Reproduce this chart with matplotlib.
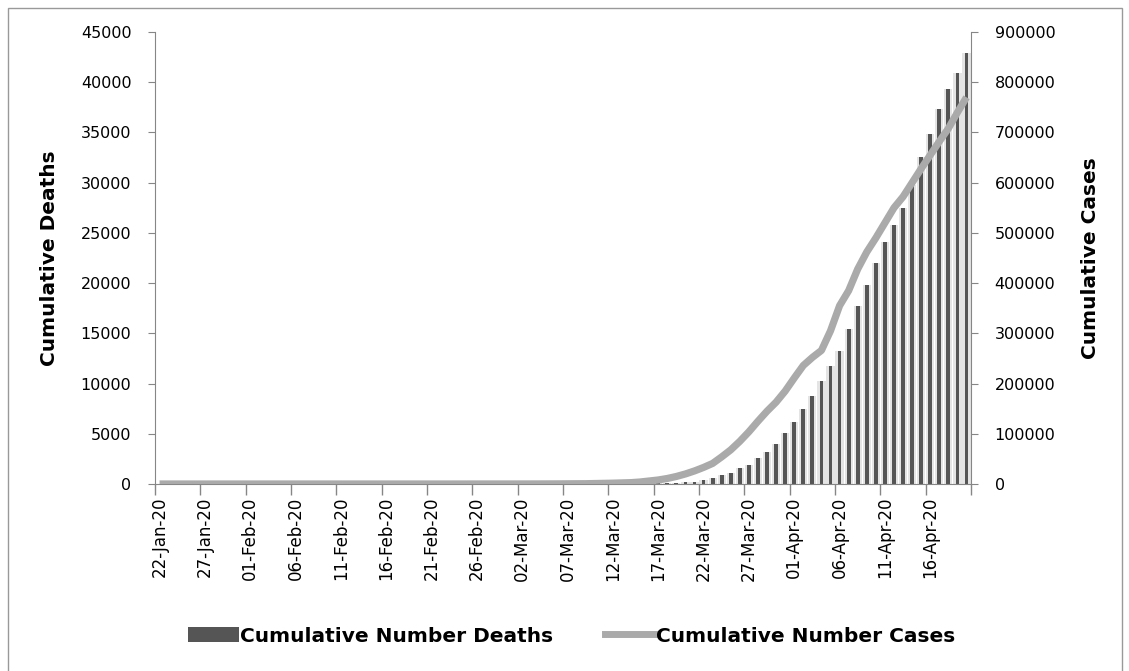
import numpy as np
import pandas as pd
import matplotlib
matplotlib.use("Agg")
import matplotlib.pyplot as plt
from matplotlib.lines import Line2D
from matplotlib.patches import Patch

# ---------------- data ----------------
dates = pd.date_range("2020-01-22", "2020-04-20", freq="D")
date_labels = [d.strftime("%d-%b-%y") for d in dates]

# cumulative deaths (left axis), 22-Jan .. 20-Apr
deaths = [0] * 38 + [
    1, 1, 6, 9, 11, 12, 15, 19, 22, 26,
    30, 38, 41, 48, 58, 60, 70, 80, 90, 100,
    220, 240, 400, 570, 900, 1100, 1630, 1930, 2610, 3170,
    4030, 5030, 6220, 7420, 8800, 10300, 11750, 13270, 15460, 17720,
    19780, 21970, 24090, 25760, 27480, 29740, 32590, 34850, 37370, 39300,
    40890, 42880,
]

# cumulative cases (right axis)
cases = [
    1, 1, 2, 2, 5, 5, 5, 5, 5, 7,
    8, 8, 11, 11, 11, 11, 11, 11, 11, 11,
    12, 12, 13, 13, 13, 13, 13, 13, 13, 13,
    15, 15, 15, 51, 51, 57, 58, 60, 68, 74,
    98, 118, 149, 217, 262, 402, 518, 583, 959, 1281,
    1663, 2179, 2727, 4000, 6000, 8000, 11000, 15000, 20000, 26000,
    33000, 41000, 54000, 68000, 85000, 104000, 125000, 145000, 163000, 185000,
    211000, 236000, 252000, 266000, 305000, 355000, 385000, 428000, 462000, 490000,
    520000, 550000, 572000, 600000, 628000, 655000, 682000, 708000, 740000, 770000,
]

BAR_DARK = "#555555"
BAR_GLOW = "#e4e4e4"
LINE_COL = "#aaaaaa"
AXIS_COL = "#868686"

x = np.arange(len(dates))

fig = plt.figure(figsize=(11.29, 6.71), dpi=100)
ax1 = fig.add_axes([0.1373, 0.2787, 0.7228, 0.6736])

# bars: light halo + dark core
ax1.bar(x, deaths, width=0.9, color=BAR_GLOW, zorder=1)
ax1.bar(x, deaths, width=0.42, color=BAR_DARK, zorder=2)
ax1.set_ylim(0, 45000)
ax1.set_yticks(np.arange(0, 45001, 5000))
ax1.set_xlim(-0.5, len(x) - 0.5)

# x axis: tick marks at category boundaries, labels at centres, every 5 days
ax1.set_xticks(np.arange(-0.5, len(x), 5))
ax1.set_xticklabels([])
ax1.set_xticks(x[::5], minor=True)
ax1.set_xticklabels(date_labels[::5], minor=True, rotation=90, fontsize=12)
ax1.tick_params(axis="x", which="major", length=8, color=AXIS_COL, width=1)
ax1.tick_params(axis="x", which="minor", length=0, pad=9)
ax1.tick_params(axis="y", length=5, color=AXIS_COL, labelsize=11.5, pad=12)

ax2 = ax1.twinx()
ax2.plot(x, cases, color=LINE_COL, lw=5.2, solid_joinstyle="round",
         solid_capstyle="butt")
ax2.set_ylim(0, 900000)
ax2.set_yticks(np.arange(0, 900001, 100000))
ax2.tick_params(axis="y", length=5, color=AXIS_COL, labelsize=11.5, pad=12)

for a in (ax1, ax2):
    a.spines["top"].set_visible(False)
    for s in ("left", "right", "bottom"):
        a.spines[s].set_color(AXIS_COL)
ax2.spines["left"].set_visible(False)
ax2.spines["bottom"].set_visible(False)
ax1.spines["right"].set_visible(False)

# axis titles
fig.text(50 / 1129, 1 - 258 / 671, "Cumulative Deaths", rotation=90,
         ha="center", va="center", fontsize=14.5, fontweight="bold")
fig.text(1090 / 1129, 1 - 258 / 671, "Cumulative Cases", rotation=90,
         ha="center", va="center", fontsize=14.5, fontweight="bold")

# legend
handles = [Patch(facecolor=BAR_DARK, edgecolor="none"),
           Line2D([0], [0], color=LINE_COL, lw=5)]
fig.legend(handles, ["Cumulative Number Deaths", "Cumulative Number Cases"],
           loc="center", bbox_to_anchor=(0.5066, 1 - 636 / 671), ncol=2,
           frameon=False, handlelength=2.5, handletextpad=0.05,
           columnspacing=2.6, prop={"size": 14.5, "weight": "bold"})

# chart border
fig.add_artist(plt.Rectangle((7.5 / 1129, -0.02), 1114 / 1129, 1 - 7.5 / 671 + 0.02,
                             transform=fig.transFigure, fill=False,
                             edgecolor="#999999", lw=1))

fig.savefig("out.png", dpi=100)
